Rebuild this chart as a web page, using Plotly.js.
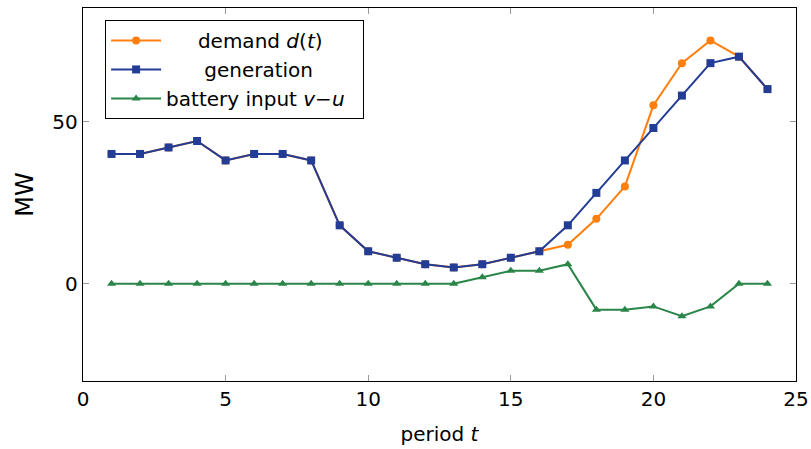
<!DOCTYPE html>
<html><head><meta charset="utf-8">
<script src="https://cdn.plot.ly/plotly-3.0.1.min.js"></script>
<style>body{margin:0;background:#fff}#chart{width:811px;height:449px}</style>
</head><body><div id="chart"></div>
<script>
const periods = [1,2,3,4,5,6,7,8,9,10,11,12,13,14,15,16,17,18,19,20,21,22,23,24];
const demand = [40,40,42,44,38,40,40,38,18,10,8,6,5,6,8,10,12,20,30,55,68,75,70,60];
const generation = [40,40,42,44,38,40,40,38,18,10,8,6,5,6,8,10,18,28,38,48,58,68,70,60];
const battery = [0,0,0,0,0,0,0,0,0,0,0,0,0,2,4,4,6,-8,-8,-7,-10,-7,0,0];
const xTicks = [0,5,10,15,20,25];
const yTicks = [0,50];

const FONT = 'DejaVu Sans';
const traces = [
  {x: periods, y: demand, name: '&nbsp;&nbsp;&nbsp;&nbsp;&nbsp;demand <i>d</i>(<i>t</i>)', mode: 'lines+markers', legendgroup: 'a',
   line: {color: '#ff7f0e', width: 2}, marker: {symbol: 'circle', size: 8, color: '#ff7f0e'}},
  {x: periods, y: generation, name: '&nbsp;&nbsp;&nbsp;&nbsp;&nbsp;&nbsp;generation', mode: 'lines+markers', legendgroup: 'b',
   line: {color: '#233c96', width: 2}, marker: {symbol: 'square', size: 8, color: '#233c96'}},
  {x: periods, y: battery, name: 'battery input <i>v</i>−<i>u</i>&nbsp;&nbsp;', mode: 'lines+markers', legendgroup: 'c',
   line: {color: '#2a8548', width: 2}, marker: {symbol: 'triangle-up', size: 8, color: '#2a8548'}}
];
const axisCommon = {
  showgrid: false, zeroline: false, showline: true, linecolor: '#000', linewidth: 1.2,
  mirror: 'ticks', ticks: 'inside', ticklen: 6, tickcolor: '#999', tickwidth: 1,
  tickfont: {family: FONT, size: 20, color: '#000'}, tickmode: 'array'
};
const layout = {
  width: 811, height: 449,
  margin: {l: 83, r: 15, t: 8, b: 68},
  paper_bgcolor: '#fff', plot_bgcolor: '#fff',
  font: {family: FONT, color: '#000'},
  xaxis: Object.assign({}, axisCommon, {range: [0, 25], tickvals: xTicks, ticktext: xTicks.map(String),
    title: {text: 'period <i>t</i>', font: {family: FONT, size: 20}, standoff: 16}}),
  yaxis: Object.assign({}, axisCommon, {range: [-30, 85], tickvals: yTicks, ticktext: yTicks.map(String),
    title: {text: 'MW', font: {family: FONT, size: 24}, standoff: 12}}),
  showlegend: true,
  legend: {x: 0.031, y: 0.968, xanchor: 'left', yanchor: 'top', bordercolor: '#000', borderwidth: 1,
    bgcolor: '#fff', font: {family: FONT, size: 20, color: '#000'}, tracegroupgap: 8, itemwidth: 50,
    traceorder: 'normal'}
};
Plotly.newPlot('chart', traces, layout, {displayModeBar: false, staticPlot: true});
</script></body></html>
